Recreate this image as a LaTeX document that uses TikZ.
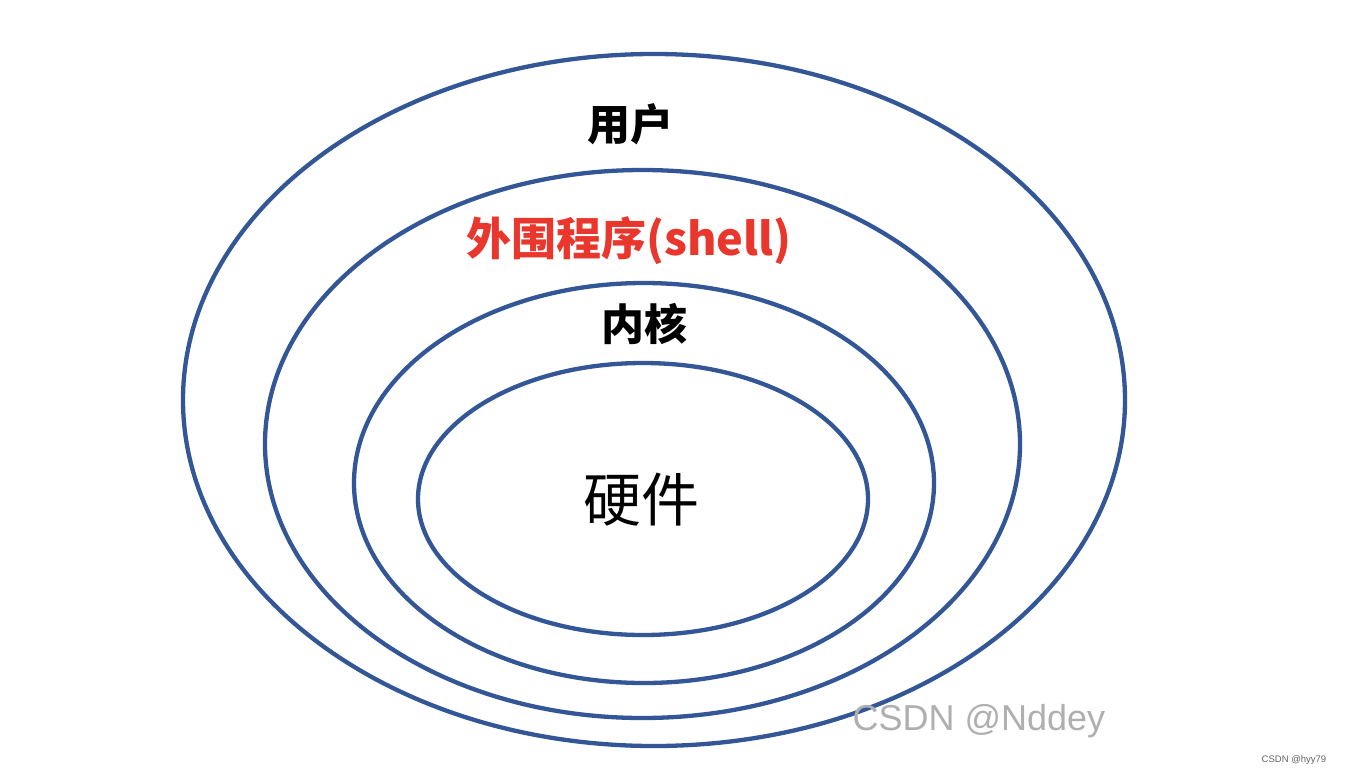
\documentclass[tikz,border=0pt]{standalone}
\usepackage{fontspec}
\usetikzlibrary{shapes.geometric}
\newfontfamily\cjk{Noto Sans CJK SC}
\newfontfamily\wmfont{Liberation Sans}
\definecolor{ringblue}{RGB}{50,86,150}
\definecolor{shellred}{RGB}{233,55,45}
\definecolor{wmgray}{RGB}{175,175,175}
\definecolor{smallgray}{RGB}{100,100,100}
\tikzset{
  ring/.style={draw=ringblue, line width=4.3pt, ellipse, inner sep=0pt, fill=none},
  lbl/.style={font=\cjk\bfseries\fontsize{43}{43}\selectfont, inner sep=0pt},
}
\begin{document}
\begin{tikzpicture}[x=1pt,y=-1pt]
\useasboundingbox[fill=white] (0,0) rectangle (1360,774);
\node[ring, minimum width=942pt, minimum height=692pt] (outer) at (654,400) {};
\node[ring, minimum width=755pt, minimum height=548pt] (shellring) at (642.5,444) {};
\node[ring, minimum width=580pt, minimum height=400pt] (kernelring) at (644,483) {};
\node[ring, minimum width=450pt, minimum height=272pt] (hwring) at (643,499) {};
\node[lbl] (user) at (630,124) {用户};
\node[lbl, text=shellred, font=\cjk\bfseries\fontsize{45}{45}\selectfont] (shell) at (629,241) {外围程序(shell)};
\node[lbl] (kernel) at (644,324) {内核};
\node[font=\cjk\fontsize{58}{58}\selectfont, inner sep=0pt] (hw) at (641,500) {硬件};
\node[font=\wmfont\fontsize{36}{36}\selectfont, text=wmgray, inner sep=0pt] (wm) at (979,721) {CSDN @Nddey};
\node[font=\wmfont\fontsize{9.5}{9.5}\selectfont, text=smallgray, inner sep=0pt] (wm2) at (1294,760) {CSDN @hyy79};
\end{tikzpicture}
\end{document}
